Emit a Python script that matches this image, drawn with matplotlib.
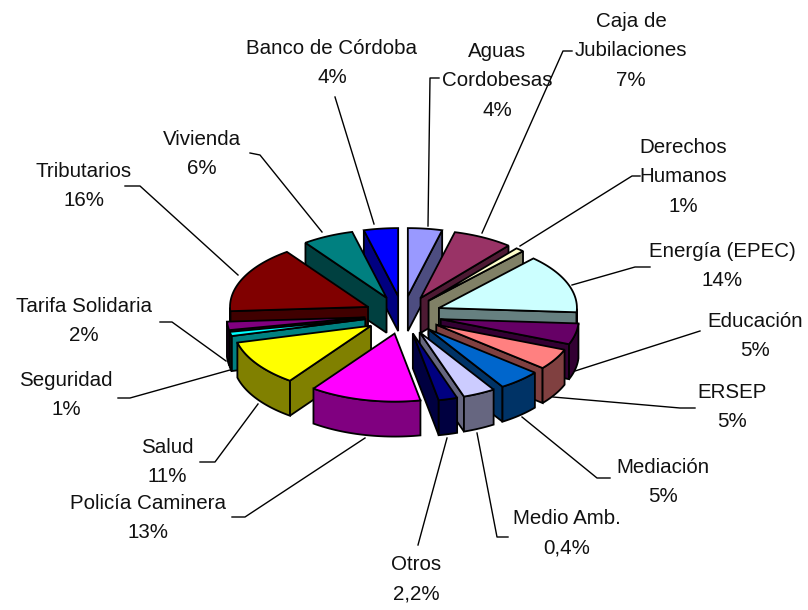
import numpy as np
import matplotlib
matplotlib.use("Agg")
import matplotlib.pyplot as plt
from matplotlib.patches import Polygon

categories = ["Aguas\nCordobesas", "Caja de\nJubilaciones", "Derechos\nHumanos", "Energía (EPEC)",
              "Educación", "ERSEP", "Mediación", "Medio Amb.", "Otros", "Policía Caminera",
              "Salud", "Seguridad", "Tarifa Solidaria", "Tributarios", "Vivienda", "Banco de Córdoba"]
# slice sizes as drawn in the picture (the Medio Amb. slice is drawn about 3.8 wide, though labelled 0,4%)
values = [4, 7, 1, 14, 5, 5, 5, 3.8, 2.2, 13, 11, 1, 2, 16, 6, 4]
value_text = ["4%", "7%", "1%", "14%", "5%", "5%", "5%", "0,4%", "2,2%", "13%", "11%", "1%", "2%", "16%", "6%", "4%"]
colors = ["#9999FF", "#993366", "#FFFFCC", "#CCFFFF", "#660066", "#FF8080", "#0066CC", "#CCCCFF",
          "#000080", "#FF00FF", "#FFFF00", "#00FFFF", "#800080", "#800000", "#008080", "#0000FF"]

label_pos = [(497, 81), (631, 51), (683, 177), (722, 266), (755, 336), (732, 407), (663, 482),
             (567, 533), (416, 579), (148, 518), (167, 462), (66, 395), (84, 321), (84, 186),
             (202, 154), (332, 63)]
leaders = [[(439, 78), (430, 78), (428, 226)],
           [(572, 51), (563, 51), (482, 233)],
           [(640, 176), (632, 176), (520, 246)],
           [(650, 267), (635, 267), (572, 285)],
           [(700, 331), (575, 371)],
           [(695, 408), (680, 408), (553, 397)],
           [(610, 478), (597, 478), (522, 417)],
           [(508, 537), (497, 537), (477, 433)],
           [(418, 545), (447, 438)],
           [(232, 517), (245, 517), (365, 438)],
           [(200, 462), (215, 462), (258, 404)],
           [(118, 398), (130, 398), (230, 370)],
           [(160, 322), (172, 322), (226, 361)],
           [(125, 186), (140, 186), (238, 275)],
           [(250, 153), (260, 155), (322, 232)],
           [(335, 97), (374, 224)]]

CX, CY, RX, RY, DEPTH, EXPLODE = 403, 315, 138, 68, 35, 0.28

fig = plt.figure(figsize=(8.08, 6.10), dpi=100, facecolor="white")
ax = fig.add_axes([0, 0, 1, 1])
ax.set_xlim(0, 808)
ax.set_ylim(610, 0)
ax.axis("off")

total = sum(values)
edges = np.concatenate([[0], np.cumsum(values)]) / total * 2 * np.pi


def dark(c):
    return tuple(0.5 * v for v in matplotlib.colors.to_rgb(c))


def face(pts, color, z):
    ax.add_patch(Polygon(pts, closed=True, facecolor=color, edgecolor="black", lw=1.3, joinstyle="miter", zorder=z))


order = np.argsort(-np.cos((edges[:-1] + edges[1:]) / 2))
z = 2.0
for i in order:
    a0, a1 = edges[i], edges[i + 1]
    mid = (a0 + a1) / 2
    tip = np.array([CX + EXPLODE * RX * np.sin(mid), CY - EXPLODE * RY * np.cos(mid)])
    t = np.linspace(a0, a1, max(4, int((a1 - a0) * 40)))
    arc = np.column_stack([tip[0] + RX * np.sin(t), tip[1] - RY * np.cos(t)])
    top = np.vstack([tip, arc])
    down = np.array([0, DEPTH])
    side = dark(colors[i])
    # walls facing the viewer: boundary runs leftward in clockwise order
    w1 = np.array([tip, arc[0]])
    w2 = np.array([arc[-1], tip])
    for w in (w1, w2):
        if w[1, 0] - w[0, 0] < 0:
            face(np.vstack([w, w[::-1] + down]), side, z)
            z += 0.01
    mask = np.diff(arc[:, 0]) < 0
    if mask.any():
        idx = np.where(mask)[0]
        seg = arc[idx[0]:idx[-1] + 2]
        face(np.vstack([seg, seg[::-1] + down]), side, z)
        z += 0.01
    face(top, colors[i], z)
    z += 0.01

for path in leaders:
    p = np.array(path)
    ax.plot(p[:, 0], p[:, 1], color="black", lw=1.0, zorder=1)

for name, val, (x, y) in zip(categories, value_text, label_pos):
    ax.text(x, y, f"{name}\n{val}", ha="center", va="center", family="Liberation Sans",
            fontsize=14.8, linespacing=1.72, color="#111111", zorder=50)

fig.savefig("out.png", dpi=100, facecolor="white")
